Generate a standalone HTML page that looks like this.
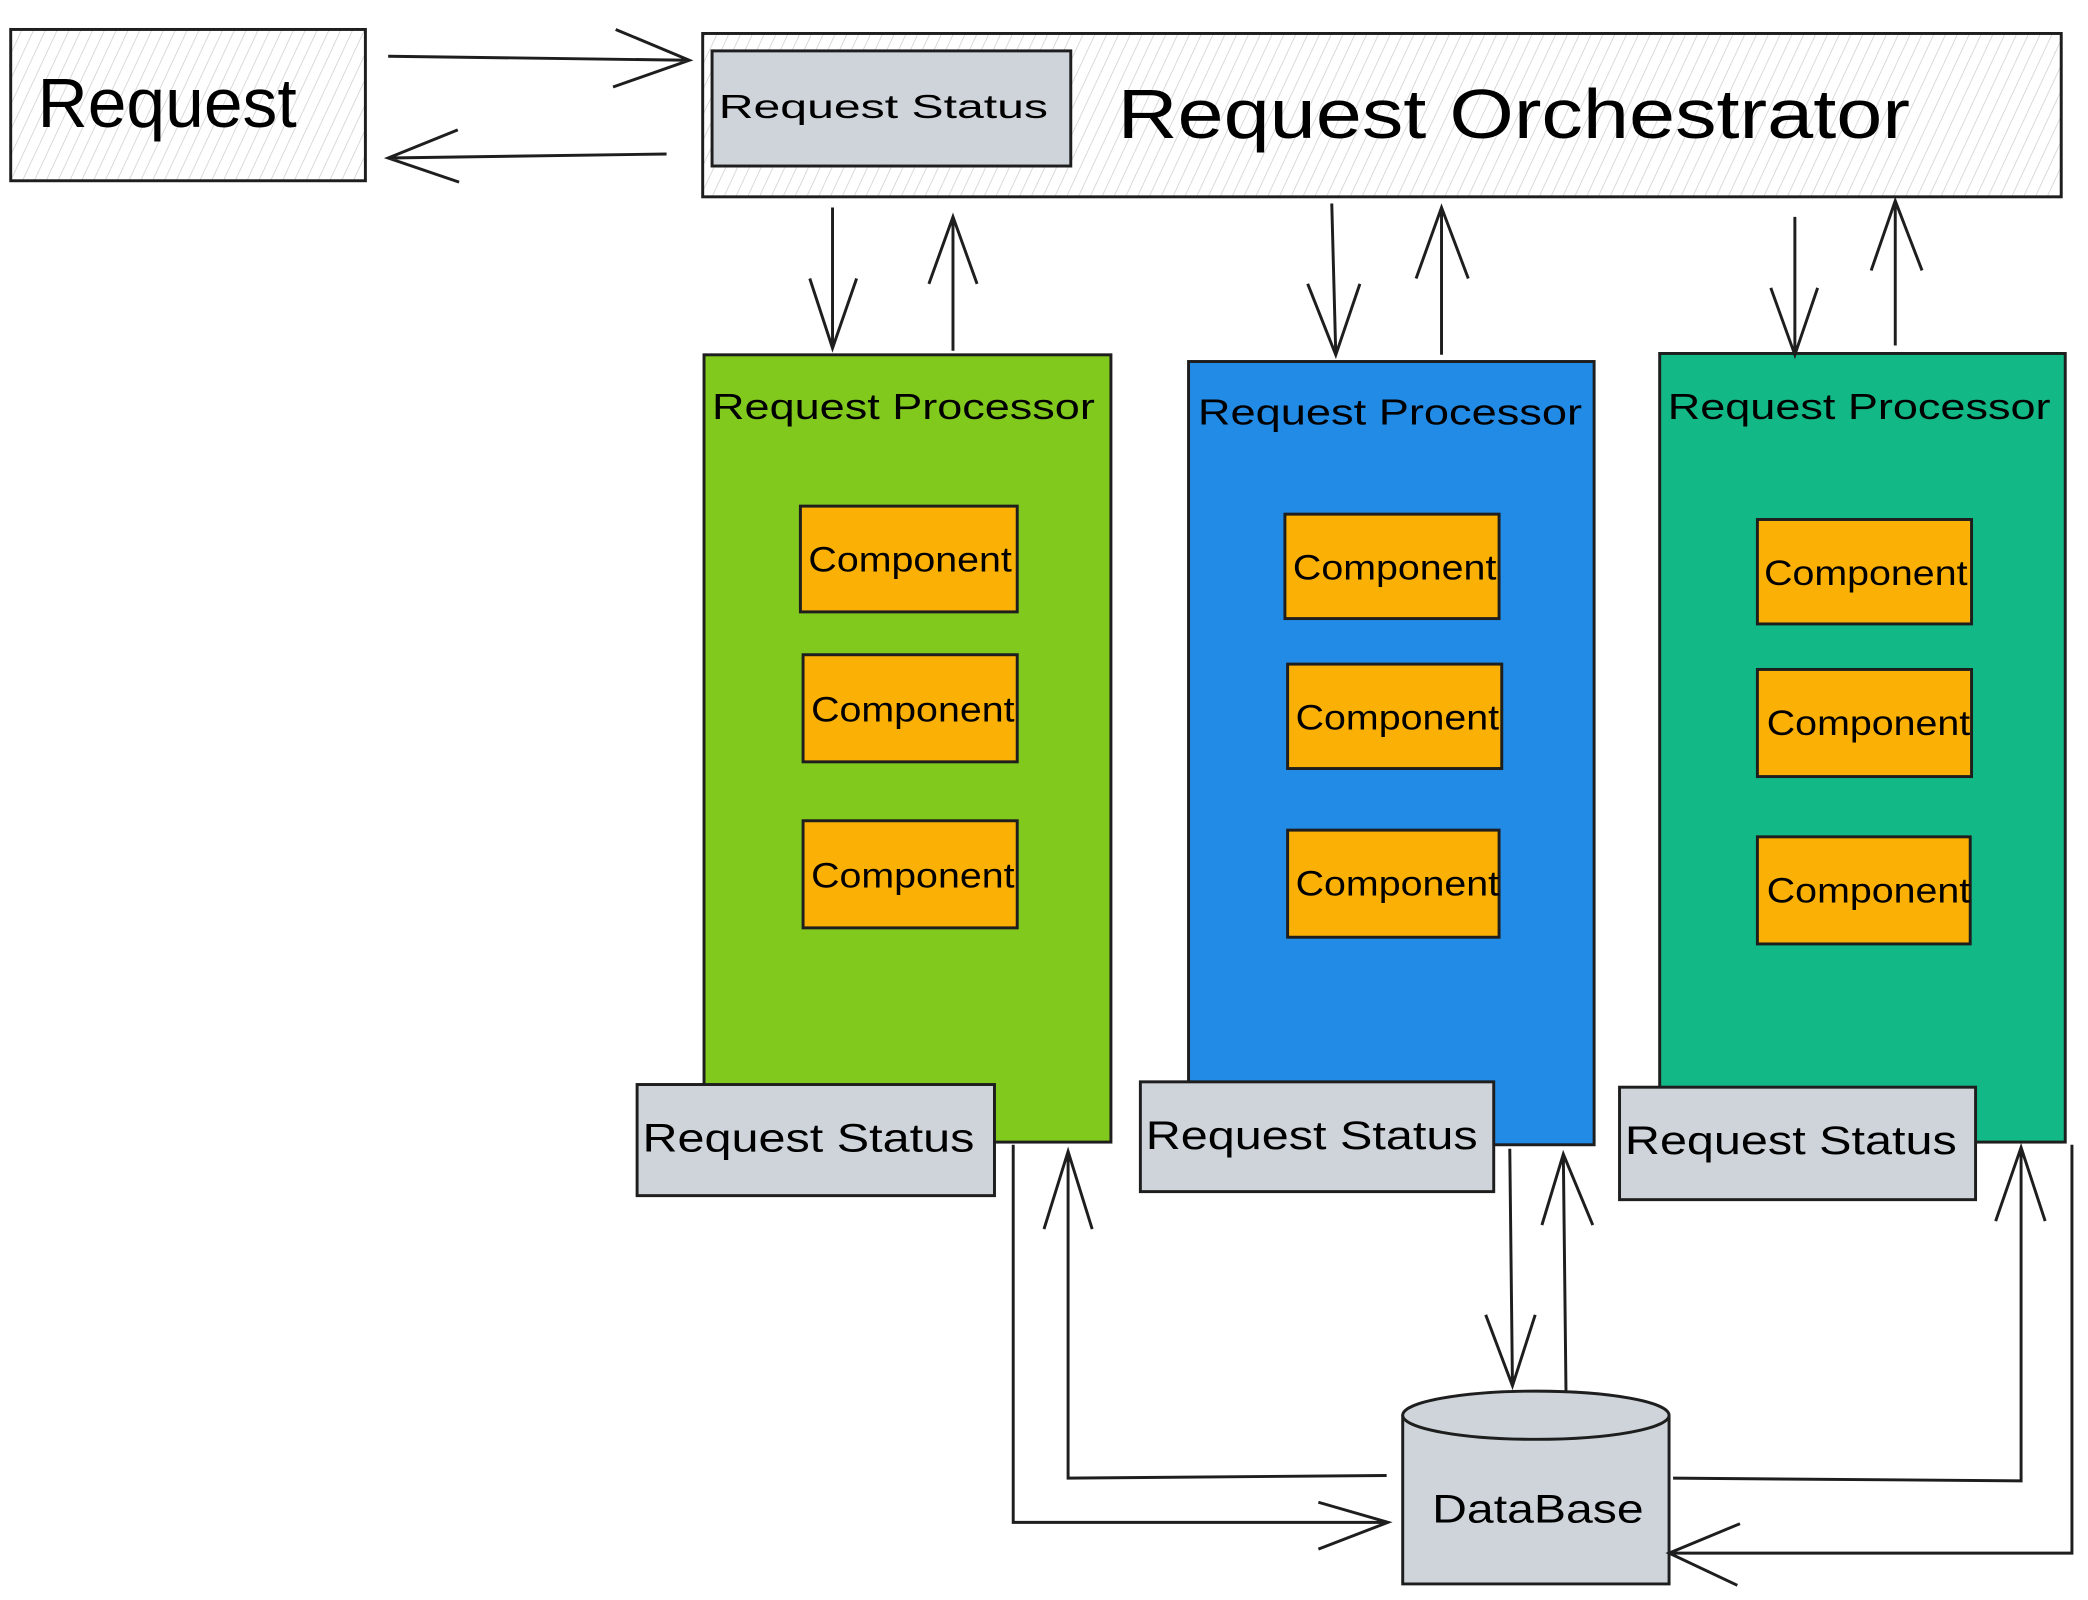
<!DOCTYPE html>
<html><head><meta charset="utf-8"><style>
html,body{margin:0;padding:0;background:#fff;}
svg{display:block;}
text{font-family:"Liberation Sans",sans-serif;fill:#000;}
</style></head><body>
<svg width="2088" height="1600" viewBox="0 0 1560 1195" preserveAspectRatio="none" xmlns="http://www.w3.org/2000/svg">
<defs>
<pattern id="h" width="8" height="8" patternUnits="userSpaceOnUse" patternTransform="rotate(25)">
<line x1="0" y1="0" x2="0" y2="8" stroke="#c8c8c8" stroke-width="1"/>
</pattern>
</defs>
<g stroke="#1e1e1e" stroke-width="2.2" fill="none">
<!-- Request -->
<rect x="8" y="22" width="265" height="113" fill="url(#h)"/>
<!-- Orchestrator -->
<rect x="525" y="25" width="1015" height="122" fill="url(#h)"/>
<rect x="532" y="38" width="268" height="86" fill="#ced4da"/>
<!-- processors -->
<rect x="526" y="265" width="304" height="588" fill="#82c91e"/>
<rect x="888" y="270" width="303" height="585" fill="#228be6"/>
<rect x="1240" y="264" width="303" height="589" fill="#12b886"/>
<!-- components -->
<rect x="598" y="378" width="162" height="79" fill="#fab005"/>
<rect x="600" y="489" width="160" height="80" fill="#fab005"/>
<rect x="600" y="613" width="160" height="80" fill="#fab005"/>
<rect x="960" y="384" width="160" height="78" fill="#fab005"/>
<rect x="962" y="496" width="160" height="78" fill="#fab005"/>
<rect x="962" y="620" width="158" height="80" fill="#fab005"/>
<rect x="1313" y="388" width="160" height="78" fill="#fab005"/>
<rect x="1313" y="500" width="160" height="80" fill="#fab005"/>
<rect x="1313" y="625" width="159" height="80" fill="#fab005"/>
<!-- status boxes -->
<rect x="476" y="810" width="267" height="83" fill="#ced4da"/>
<rect x="852" y="808" width="264" height="82" fill="#ced4da"/>
<rect x="1210" y="812" width="266" height="84" fill="#ced4da"/>
<!-- database -->
<path d="M1048 1057 L1048 1183 L1247 1183 L1247 1057" fill="#ced4da"/>
<ellipse cx="1147.5" cy="1057" rx="99.5" ry="18" fill="#ced4da"/>
<!-- arrows -->
<path d="M290 42 L515 45 M460 22 L515 45 L458 65"/>
<path d="M498 115 L290 118 M342 97 L290 118 L343 136"/>
<path d="M622 155 L622 260 M605 208 L622 260 L640 208"/>
<path d="M712 262 L712 162 M694 212 L712 162 L730 212"/>
<path d="M995 152 L998 265 M977 212 L998 265 L1016 212"/>
<path d="M1077 265 L1077 155 M1058 208 L1077 155 L1097 208"/>
<path d="M1341 162 L1341 265 M1323 215 L1341 265 L1358 215"/>
<path d="M1416 258 L1416 150 M1398 202 L1416 150 L1436 202"/>
<path d="M757 855 L757 1137 L1037 1137 M985 1122 L1037 1137 L985 1157"/>
<path d="M1036 1102 L798 1104 L798 860 M780 918 L798 860 L816 918"/>
<path d="M1128 858 L1130 1035 M1110 982 L1130 1035 L1147 982"/>
<path d="M1170 1040 L1168 862 M1152 915 L1168 862 L1190 915"/>
<path d="M1250 1104 L1510 1106 L1510 857 M1491 912 L1510 857 L1528 912"/>
<path d="M1548 855 L1548 1160 L1247 1160 M1300 1138 L1247 1160 L1298 1184"/>
</g>
<g font-size="27">
<text x="28" y="95" font-size="52">Request</text>
<text x="537" y="88" font-size="25" textLength="246" lengthAdjust="spacingAndGlyphs">Request Status</text>
<text x="835" y="103" font-size="52" textLength="592" lengthAdjust="spacingAndGlyphs">Request Orchestrator</text>
<text x="532" y="313" textLength="286" lengthAdjust="spacingAndGlyphs">Request Processor</text>
<text x="895" y="317" textLength="287" lengthAdjust="spacingAndGlyphs">Request Processor</text>
<text x="1246" y="313" textLength="286" lengthAdjust="spacingAndGlyphs">Request Processor</text>
<g font-size="26">
<text x="604" y="427" textLength="152" lengthAdjust="spacingAndGlyphs">Component</text>
<text x="606" y="539" textLength="152" lengthAdjust="spacingAndGlyphs">Component</text>
<text x="606" y="663" textLength="152" lengthAdjust="spacingAndGlyphs">Component</text>
<text x="966" y="433" textLength="152" lengthAdjust="spacingAndGlyphs">Component</text>
<text x="968" y="545" textLength="152" lengthAdjust="spacingAndGlyphs">Component</text>
<text x="968" y="669" textLength="152" lengthAdjust="spacingAndGlyphs">Component</text>
<text x="1318" y="437" textLength="152" lengthAdjust="spacingAndGlyphs">Component</text>
<text x="1320" y="549" textLength="152" lengthAdjust="spacingAndGlyphs">Component</text>
<text x="1320" y="674" textLength="152" lengthAdjust="spacingAndGlyphs">Component</text>
</g>
<text x="480" y="860" font-size="30" textLength="248" lengthAdjust="spacingAndGlyphs">Request Status</text>
<text x="856" y="858" font-size="30" textLength="248" lengthAdjust="spacingAndGlyphs">Request Status</text>
<text x="1214" y="862" font-size="30" textLength="248" lengthAdjust="spacingAndGlyphs">Request Status</text>
<text x="1070" y="1137" font-size="30" textLength="158" lengthAdjust="spacingAndGlyphs">DataBase</text>
</g>
</svg>
</body></html>
